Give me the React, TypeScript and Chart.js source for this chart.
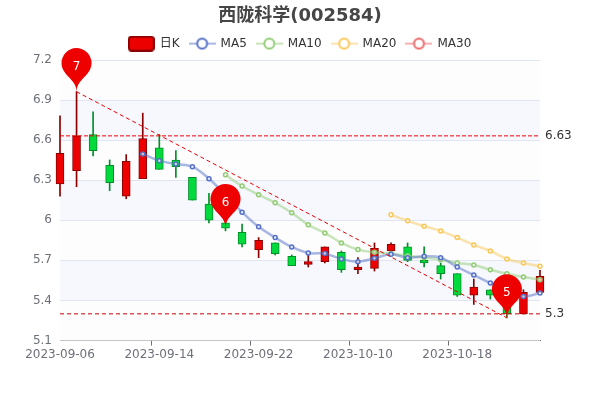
import React, { useEffect, useRef } from "react";
import { Chart, registerables } from "chart.js";

Chart.register(...registerables);

const categories = [
  "2023-09-06","2023-09-07","2023-09-08","2023-09-11","2023-09-12","2023-09-13","2023-09-14","2023-09-15","2023-09-18","2023-09-19",
  "2023-09-20","2023-09-21","2023-09-22","2023-09-25","2023-09-26","2023-09-27","2023-09-28","2023-10-09","2023-10-10","2023-10-11",
  "2023-10-12","2023-10-13","2023-10-16","2023-10-17","2023-10-18","2023-10-19","2023-10-20","2023-10-23","2023-10-24","2023-10-25",
];
const opens = [6.27,6.37,6.64,6.41,6.18,6.31,6.54,6.45,6.32,6.12,5.98,5.91,5.78,5.83,5.73,5.67,5.69,5.76,5.63,5.64,5.77,5.80,5.70,5.66,5.60,5.44,5.48,5.37,5.30,5.46];
const closes = [6.50,6.63,6.52,6.28,6.44,6.61,6.38,6.40,6.15,6.00,5.94,5.82,5.85,5.75,5.66,5.69,5.80,5.63,5.65,5.79,5.82,5.70,5.68,5.60,5.44,5.50,5.44,5.30,5.46,5.58];
const lows = [6.18,6.25,6.48,6.22,6.16,6.31,6.38,6.32,6.15,5.98,5.92,5.80,5.72,5.74,5.66,5.65,5.68,5.61,5.60,5.62,5.77,5.69,5.65,5.56,5.43,5.37,5.41,5.27,5.30,5.46];
const highs = [6.78,6.96,6.81,6.45,6.49,6.80,6.64,6.52,6.32,6.20,5.98,5.97,5.87,5.83,5.74,5.74,5.80,5.77,5.72,5.83,5.83,5.83,5.80,5.68,5.60,5.56,5.48,5.40,5.48,5.625];
const ma5 = [null,null,null,null,null,6.495,6.445,6.42,6.40,6.31,6.19,6.06,5.95,5.87,5.80,5.755,5.75,5.71,5.69,5.715,5.745,5.72,5.73,5.72,5.65,5.59,5.53,5.47,5.43,5.455];
const ma10 = [null,null,null,null,null,null,null,null,null,null,6.34,6.255,6.19,6.13,6.055,5.965,5.905,5.83,5.78,5.76,5.75,5.735,5.72,5.705,5.68,5.665,5.63,5.60,5.575,5.555];
const ma20 = [null,null,null,null,null,null,null,null,null,null,null,null,null,null,null,null,null,null,null,null,6.04,5.995,5.955,5.92,5.87,5.815,5.77,5.71,5.68,5.655];
const ma30: (number | null)[] = categories.map(() => null);
const highLine = 6.63;
const lowLine = 5.3;
const trendStart = { index: 1, value: 6.96 };
const trendEnd = { index: 27, value: 5.27 };
const pins = [
  { index: 1, value: 6.96, label: "7" },
  { index: 10, value: 5.945, label: "6" },
  { index: 27, value: 5.27, label: "5" },
];
const legendNames = ["日K", "MA5", "MA10", "MA20", "MA30"];
const maColors = ["#5470c6", "#91cc75", "#fac858", "#ee6666"];

const UP = "#ec0000";
const UP_BORDER = "#8a0000";
const DOWN = "#00da3c";
const DOWN_BORDER = "#008f28";
const FONT = '"DejaVu Sans","Noto Sans CJK SC",sans-serif';

function hexA(hex: string, a: number) {
  const n = parseInt(hex.slice(1), 16);
  return `rgba(${n >> 16},${(n >> 8) & 255},${n & 255},${a})`;
}

function candleIcon() {
  const c = document.createElement("canvas");
  c.width = 27; c.height = 16;
  const g = c.getContext("2d")!;
  g.fillStyle = UP; g.strokeStyle = UP_BORDER; g.lineWidth = 2;
  g.beginPath(); g.roundRect(1, 1, 25, 14, 3); g.fill(); g.stroke();
  return c;
}
function lineIcon(color: string) {
  const c = document.createElement("canvas");
  c.width = 27; c.height = 16;
  const g = c.getContext("2d")!;
  g.strokeStyle = hexA(color, 0.5); g.lineWidth = 2;
  g.beginPath(); g.moveTo(0, 8); g.lineTo(27, 8); g.stroke();
  g.fillStyle = "#fff"; g.strokeStyle = color; g.lineWidth = 2;
  g.beginPath(); g.arc(13.5, 8, 5, 0, Math.PI * 2); g.fill(); g.stroke();
  return c;
}

const bandsPlugin = {
  id: "bands",
  beforeDatasetsDraw(chart: any) {
    const { ctx, chartArea: a, scales: { y } } = chart;
    const ticks = y.ticks;
    ctx.save();
    for (let i = 0; i < ticks.length - 1; i++) {
      ctx.fillStyle = i % 2 ? "rgba(246,248,253,1)" : "rgba(253,253,254,1)";
      const t = y.getPixelForValue(ticks[i + 1].value);
      const b = y.getPixelForValue(ticks[i].value);
      ctx.fillRect(a.left, t, a.right - a.left, b - t);
    }
    ctx.strokeStyle = "#E0E6F1"; ctx.lineWidth = 1;
    ticks.forEach((t: any, i: number) => {
      if (i === 0) return;
      const p = Math.round(y.getPixelForValue(t.value)) + 0.5;
      ctx.beginPath(); ctx.moveTo(a.left, p); ctx.lineTo(a.right, p); ctx.stroke();
    });
    ctx.restore();
  },
};

const pinPlugin = {
  id: "pins",
  afterDatasetsDraw(chart: any) {
    const { ctx, chartArea: a, scales: { x, y } } = chart;
    ctx.save();
    pins.forEach((p) => {
      const px = x.getPixelForValue(p.index);
      const py = y.getPixelForValue(p.value);
      const r = 15, h = 50;
      const dy = (r * r) / (h - r);
      const cy = py - h + r + dy;
      const ang = Math.asin(dy / r);
      const dx = Math.cos(ang) * r;
      const tx = Math.sin(ang), ty = Math.cos(ang);
      const c1 = r * 0.6, c2 = r * 0.7;
      ctx.fillStyle = "#ee0000";
      ctx.beginPath();
      ctx.moveTo(px - dx, cy + dy);
      ctx.arc(px, cy, r, Math.PI - ang, Math.PI * 2 + ang);
      ctx.bezierCurveTo(px + dx - tx * c1, cy + dy + ty * c1, px, py - c2, px, py);
      ctx.bezierCurveTo(px, py - c2, px - dx + tx * c1, cy + dy + ty * c1, px - dx, cy + dy);
      ctx.closePath();
      ctx.fill();
      ctx.fillStyle = "#fff";
      ctx.font = `12px ${FONT}`;
      ctx.textAlign = "center";
      ctx.textBaseline = "middle";
      ctx.fillText(p.label, px, py - 25);
    });
    ctx.fillStyle = "#333";
    ctx.font = `12px ${FONT}`;
    ctx.textAlign = "left";
    ctx.textBaseline = "middle";
    ctx.fillText(String(highLine), a.right + 5, y.getPixelForValue(highLine));
    ctx.fillText(String(lowLine), a.right + 5, y.getPixelForValue(lowLine));
    ctx.restore();
  },
};

export default function App() {
  const ref = useRef<HTMLCanvasElement>(null);
  useEffect(() => {
    const isUp = (i: number) => closes[i] >= opens[i];
    const fills = categories.map((_, i) => (isUp(i) ? UP : DOWN));
    const edges = categories.map((_, i) => (isUp(i) ? UP_BORDER : DOWN_BORDER));
    const maSet = (name: string, data: (number | null)[], color: string) => ({
      type: "line" as const,
      label: name,
      data,
      order: 2,
      clip: false,
      borderColor: hexA(color, 0.5),
      borderWidth: 2.5,
      tension: 0.35,
      pointRadius: 2,
      pointBorderWidth: 1.5,
      pointBackgroundColor: "rgba(255,255,255,0.7)",
      pointBorderColor: color,
    });
    const refSet = (name: string, data: (number | null)[], color: string, width: number, dash: number[]) => ({
      type: "line" as const,
      label: name,
      data,
      order: 1,
      clip: false,
      spanGaps: true,
      borderColor: color,
      borderWidth: width,
      borderDash: dash,
      pointRadius: 0,
      tension: 0,
    });
    const icons = [candleIcon(), ...maColors.map(lineIcon)];
    const chart = new Chart(ref.current!, {
      data: {
        labels: categories,
        datasets: [
          {
            type: "bar", label: "wick", data: categories.map((_, i) => [lows[i], highs[i]]) as any,
            backgroundColor: edges, borderWidth: 0, barThickness: 1, grouped: false, order: 4, clip: false,
          } as any,
          {
            type: "bar", label: "日K", data: categories.map((_, i) => [opens[i], closes[i]]) as any,
            backgroundColor: fills, borderColor: edges, borderWidth: 1, borderSkipped: false,
            barThickness: 8, grouped: false, order: 3, clip: false,
          } as any,
          maSet("MA5", ma5, maColors[0]),
          maSet("MA10", ma10, maColors[1]),
          maSet("MA20", ma20, maColors[2]),
          maSet("MA30", ma30, maColors[3]),
          refSet("最高", categories.map((_, i) => (i === 0 || i === categories.length - 1 ? highLine : null)), "#ee0000", 1, [4, 2]),
          refSet("最低", categories.map((_, i) => (i === 0 || i === categories.length - 1 ? lowLine : null)), "#c80000", 1, [4, 3]),
          refSet("趋势", categories.map((_, i) => (i === trendStart.index ? trendStart.value : i === trendEnd.index ? trendEnd.value : null)), "#ee0000", 1, [4, 3]),
        ],
      },
      options: {
        responsive: false,
        animation: false,
        layout: { padding: { left: 0, right: 0, top: 6, bottom: 36 } },
        plugins: {
          tooltip: { enabled: false },
          title: {
            display: true,
            text: "西陇科学(002584)",
            color: "#464646",
            font: { family: FONT, size: 18, weight: "bold" },
            padding: { top: 0, bottom: 0 },
          },
          legend: {
            display: true,
            position: "top",
            labels: {
              usePointStyle: true,
              pointStyleWidth: 25,
              padding: 10,
              color: "#333",
              font: { family: FONT, size: 12 },
              generateLabels: () =>
                legendNames.map((n, i) => ({
                  text: n, pointStyle: icons[i] as any, fontColor: "#333", hidden: false,
                  lineWidth: 0, strokeStyle: "transparent", fillStyle: "transparent", datasetIndex: i,
                })),
            },
          },
        },
        scales: {
          x: {
            type: "category",
            offset: false,
            border: { color: "#6E7079" },
            grid: {
              drawOnChartArea: false,
              tickLength: 5,
              tickColor: (c: any) => (c.index % 6 === 0 ? "#6E7079" : "transparent"),
            },
            ticks: {
              autoSkip: false,
              maxRotation: 0,
              padding: 2,
              color: "#6E7079",
              font: { family: FONT, size: 12 },
              callback: (_: any, i: number) => (i % 6 === 0 ? categories[i] : ""),
            },
          },
          y: {
            min: 5.1,
            max: 7.2,
            border: { display: false },
            grid: { display: false, drawTicks: false },
            afterFit: (s: any) => { s.width = 60; },
            ticks: {
              stepSize: 0.3,
              padding: 8,
              color: "#6E7079",
              font: { family: FONT, size: 12 },
              callback: (v: any) => String(+Number(v).toFixed(1)),
            },
          },
          yRight: {
            position: "right",
            display: true,
            min: 5.1,
            max: 7.2,
            border: { display: false },
            grid: { display: false, drawTicks: false },
            ticks: { display: false },
            afterFit: (s: any) => { s.width = 60; },
          },
        },
      },
      plugins: [bandsPlugin, pinPlugin],
    } as any);
    return () => chart.destroy();
  }, []);
  return (
    <div style={{ position: "fixed", left: 0, top: 0, width: 600, height: 400, background: "#fff" }}>
      <canvas ref={ref} width={600} height={400} style={{ display: "block" }} />
    </div>
  );
}
